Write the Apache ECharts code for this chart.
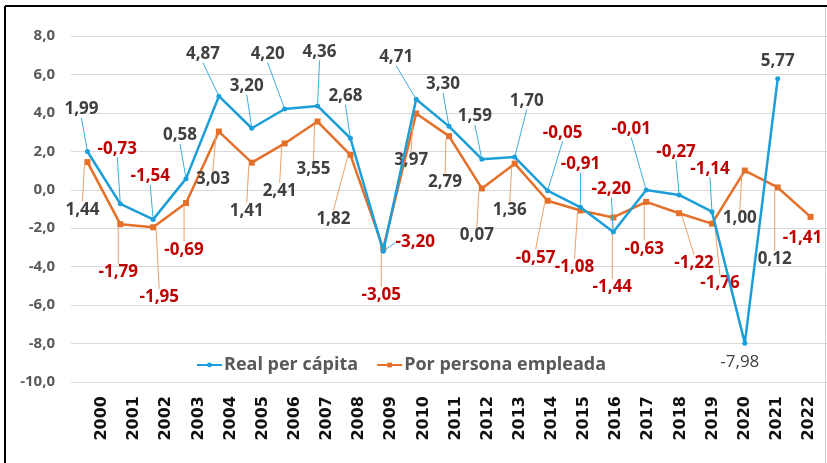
<!DOCTYPE html>
<html>
<head>
<meta charset="utf-8">
<script src="https://cdn.jsdelivr.net/npm/echarts@6/dist/echarts.min.js"></script>
<style>html,body{margin:0;padding:0;background:#fff}#c{width:827px;height:463px}</style>
</head>
<body>
<div id="c"></div>
<script>
// ---- data ----
const years = ['2000','2001','2002','2003','2004','2005','2006','2007','2008','2009','2010','2011','2012','2013','2014','2015','2016','2017','2018','2019','2020','2021','2022'];
const realPerCapita = [1.99,-0.73,-1.54,0.58,4.87,3.20,4.20,4.36,2.68,-3.20,4.71,3.30,1.59,1.70,-0.05,-0.91,-2.20,-0.01,-0.27,-1.14,-7.98,5.77,null];
const porPersonaEmpleada = [1.44,-1.79,-1.95,-0.69,3.03,1.41,2.41,3.55,1.82,-3.05,3.97,2.79,0.07,1.36,-0.57,-1.08,-1.44,-0.63,-1.22,-1.76,1.00,0.12,-1.41];
const seriesNames = ['Real per cápita','Por persona empleada'];
const yMin = -10, yMax = 8, yStep = 2;

// ---- label placement (callout offsets from each point, in px) ----
const blueLabelOffsets = [[-6,-42],[-3,-55],[-3,-43],[-6,-43],[-16,-42],[-5,-42],[-17,-55],[2,-54],[-5,-42],[32,-9],
  [-20,-42],[-6,-42],[-7,-43],[12,-56],[15,-58],[0,-43],[-2,-43],[-15,-61],[-3,-43],[-2,-43],[-5,19],[0,-18],[0,0]];
const orangeLabelOffsets = [[-5,48],[-2,48],[6,70],[-2,47],[-6,48],[-5,48],[-5,48],[-4,48],[-17,64],[-2,47],
  [-5,47],[-4,46],[-5,47],[-5,47],[-12,57],[-6,57],[-1,70],[-2,47],[15,50],[8,60],[-5,48],[-3,72],[-8,21]];
const blueNoLeader = [20,21];
const orangeNoLeader = [22];

const BLUE = '#1C9FD9', ORANGE = '#E5702A';
const NEG = '#C00000', POS = '#404040';
const FONT = '"Open Sans", "DejaVu Sans", sans-serif';

function fmt(v){ return v.toFixed(2).replace('.', ','); }

function buildData(values, noLeader, specialIdx){
  return values.map((v, i) => {
    if (v == null) return null;
    const item = { value: v, label: { color: v < 0 ? NEG : POS } };
    if (specialIdx != null && specialIdx === i) { item.label = { color: POS, fontWeight: 'normal' }; }
    if (noLeader.indexOf(i) >= 0) item.labelLine = { show: false };
    return item;
  });
}

function layoutFrom(offsets){
  return function(p){
    const o = offsets[p.dataIndex] || [0,0];
    return {
      x: p.rect.x + p.rect.width / 2 + o[0],
      y: p.rect.y + p.rect.height / 2 + o[1],
      align: 'center', verticalAlign: 'middle'
    };
  };
}

const chart = echarts.init(document.getElementById('c'), null, {renderer: 'canvas'});
chart.setOption({
  animation: false,
  backgroundColor: '#fff',
  grid: [
    {left: 71, right: 0, top: 36, bottom: 81},
    {left: 86, right: 2, top: 36, bottom: 81}
  ],
  legend: {
    left: 191, top: 351,
    itemWidth: 25, itemHeight: 6, itemGap: 18,
    textStyle: {fontFamily: FONT, fontSize: 18, fontWeight: 'bold', color: '#595959', padding: [0,0,0,-3]},
    data: seriesNames
  },
  xAxis: [
    {type: 'category', gridIndex: 0, data: years, boundaryGap: true,
     axisLine: {show: false}, axisTick: {show: false}, axisLabel: {show: false}, splitLine: {show: false}},
    {type: 'category', gridIndex: 1, data: years, boundaryGap: true,
     axisLine: {show: false}, axisTick: {show: false}, splitLine: {show: false},
     axisLabel: {rotate: 90, margin: 14, interval: 0, fontFamily: '"DejaVu Sans", sans-serif', fontWeight: 'bold', fontSize: 16, color: '#111'}}
  ],
  yAxis: [
    {type: 'value', gridIndex: 0, min: yMin, max: yMax, interval: yStep,
     axisLine: {show: false}, axisTick: {show: false},
     splitLine: {lineStyle: {color: '#D9D9D9', width: 1}},
     axisLabel: {margin: 16, fontFamily: FONT, fontSize: 15, fontWeight: 'bold', color: '#595959',
       formatter: v => v.toFixed(1).replace('.', ',')}},
    {type: 'value', gridIndex: 1, min: yMin, max: yMax, show: false}
  ],
  graphic: [
    {type: 'line', shape: {x1: 5, y1: 6, x2: 827, y2: 6}, style: {stroke: '#000', lineWidth: 2}, z: 100},
    {type: 'line', shape: {x1: 5, y1: 6, x2: 5, y2: 463}, style: {stroke: '#000', lineWidth: 2}, z: 100},
    {type: 'line', shape: {x1: 825.5, y1: 7, x2: 825.5, y2: 463}, style: {stroke: '#D0D0D0', lineWidth: 1}, z: 100}
  ],
  series: [
    {
      name: seriesNames[0], type: 'line', xAxisIndex: 0, yAxisIndex: 0,
      data: buildData(realPerCapita, blueNoLeader, 20),
      color: BLUE,
      lineStyle: {width: 2.5, color: BLUE},
      symbol: 'circle', symbolSize: 5, itemStyle: {color: BLUE},
      z: 3,
      label: {show: true, fontFamily: FONT, fontSize: 17, fontWeight: 'bold', formatter: p => fmt(p.value)},
      labelLine: {show: true, lineStyle: {color: '#3AAEE0', width: 1}},
      labelLayout: layoutFrom(blueLabelOffsets)
    },
    {
      name: seriesNames[1], type: 'line', xAxisIndex: 0, yAxisIndex: 0,
      data: buildData(porPersonaEmpleada, orangeNoLeader, null),
      color: ORANGE,
      lineStyle: {width: 2.5, color: ORANGE},
      symbol: 'rect', symbolSize: 6, itemStyle: {color: ORANGE},
      z: 2,
      label: {show: true, fontFamily: FONT, fontSize: 17, fontWeight: 'bold', formatter: p => fmt(p.value)},
      labelLine: {show: true, lineStyle: {color: '#F0A066', width: 1}},
      labelLayout: layoutFrom(orangeLabelOffsets)
    }
  ]
});
</script>
</body>
</html>
